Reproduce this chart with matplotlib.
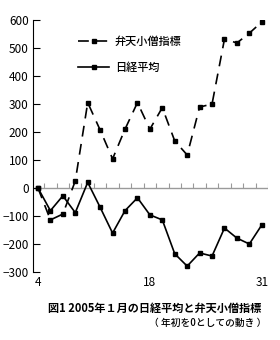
import numpy as np
import matplotlib
matplotlib.use("Agg")
import matplotlib.pyplot as plt

plt.rcParams['font.family'] = ['Liberation Sans Narrow', 'Noto Sans CJK JP', 'DejaVu Sans']

# trading days of January 2005
days = [4, 5, 6, 7, 11, 12, 13, 14, 17, 18, 19, 20, 21, 24, 25, 26, 27, 28, 31]
# change from the start of the year
benten = [0, -114, -93, 25, 305, 207, 104, 210, 305, 210, 287, 168, 118,
          289, 300, 532, 518, 553, 593]
nikkei = [0, -81, -28, -88, 20, -69, -161, -81, -35, -96, -114, -235, -279,
          -232, -243, -143, -179, -200, -132]
shown_days = [4, 18, 31]

x = np.arange(len(days))

fig = plt.figure(figsize=(2.8, 3.4), dpi=100)
ax = fig.add_axes([33 / 280, 68 / 340, 235 / 280, 252 / 340])

ax.plot(x, benten, color="black", lw=1.2, ls=(0, (6.5, 4.5)), marker="s",
        markersize=3, label="弁天小僧指標")
ax.plot(x, nikkei, color="black", lw=1.2, marker="s", markersize=3,
        label="日経平均")

# zero line with tick marks between days
ax.axhline(0, color="#9a9a9a", lw=1.0, zorder=0)
ax.vlines(x + 0.5, 0, 18, color="#9a9a9a", lw=0.8, zorder=0)

ax.set_xlim(-0.4, len(days) - 0.5)
ax.set_ylim(-300, 600)
ax.set_yticks(range(-300, 601, 100))
ax.set_xticks([days.index(d) for d in shown_days], [str(d) for d in shown_days])

for s in ["top", "right", "bottom"]:
    ax.spines[s].set_visible(False)
ax.spines["left"].set_linewidth(0.8)
ax.tick_params(axis="y", direction="in", length=5, width=0.8, labelsize=8.5, pad=3)
ax.tick_params(axis="x", length=0, labelsize=8.5, pad=3)

ax.legend(loc="upper left", bbox_to_anchor=(0.15, 0.975), frameon=False,
          handlelength=2.8, handletextpad=0.5, labelspacing=1.4,
          prop={"family": ["Noto Sans CJK JP"], "size": 8, "weight": "medium"})

fig.text(155 / 280, 1 - 308 / 340, "図1 2005年１月の日経平均と弁天小僧指標",
         ha="center", va="center", fontsize=8, family=["Noto Sans CJK JP"],
         weight="bold")
fig.text(266 / 280, 1 - 323 / 340, "（ 年初を0としての動き ）",
         ha="right", va="center", fontsize=7, family=["Noto Sans CJK JP"],
         weight="medium")

fig.savefig("out.png", dpi=100)
